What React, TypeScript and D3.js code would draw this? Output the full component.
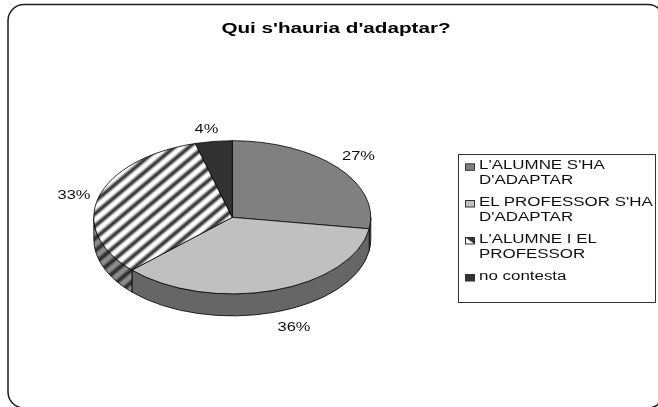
import React from "react";
import * as d3 from "d3";

const W = 658, H = 407;
const title = "Qui s'hauria d'adaptar?";
const categories = ["L'ALUMNE S'HA|D'ADAPTAR", "EL PROFESSOR S'HA|D'ADAPTAR", "L'ALUMNE I EL|PROFESSOR", "no contesta"];
const values = [27.4, 35.5, 32.8, 4.3];
const percentLabels = ["27%", "36%", "33%", "4%"];
const labelPositions = [[358.5, 160.3], [294, 330.5], [74, 199], [206.5, 133.3]];
const topFills = ["#808080", "#c0c0c0", "url(#stripes)", "#333333"];
const sideFills = ["#5f5f5f", "#666666", "url(#stripesDark)", "#262626"];
const legendFills = ["#808080", "#c0c0c0", "url(#swatchStripe)", "#333333"];
const legendBaselines = [169.3, 206, 243, 280];

const cx = 232.3, cy = 217.3, rx = 138.5, ry = 76.6, depth = 22;
const font = "'Liberation Sans', Arial, sans-serif";

export default function App() {
  const pie = d3.pie<number>().sort(null).startAngle(0).endAngle(2 * Math.PI);
  const arcs = pie(values);
  const px = (a: number) => cx + rx * Math.sin(a);
  const py = (a: number) => cy - ry * Math.cos(a);

  const sector = (a0: number, a1: number) =>
    `M${cx},${cy}L${px(a0)},${py(a0)}A${rx},${ry} 0 ${a1 - a0 > Math.PI ? 1 : 0} 1 ${px(a1)},${py(a1)}Z`;
  const side = (a0: number, a1: number) => {
    const s = Math.max(a0, Math.PI / 2), e = Math.min(a1, 1.5 * Math.PI);
    if (e <= s) return null;
    return `M${px(s)},${py(s)}A${rx},${ry} 0 0 1 ${px(e)},${py(e)}L${px(e)},${py(e) + depth}A${rx},${ry} 0 0 0 ${px(s)},${py(s) + depth}Z`;
  };

  return (
    <svg width={W} height={H} style={{ position: "absolute", left: 0, top: 0, display: "block" }}>
      <defs>
        <filter id="soft" x="0" y="0" width="100%" height="100%">
          <feGaussianBlur stdDeviation="0.4" />
        </filter>
        <linearGradient id="stripeGrad" x1="0" x2="1" y1="0" y2="0">
          <stop offset="0" stopColor="#ffffff" />
          <stop offset="0.3" stopColor="#ffffff" />
          <stop offset="0.6" stopColor="#333333" />
          <stop offset="0.72" stopColor="#333333" />
          <stop offset="1" stopColor="#ffffff" />
        </linearGradient>
        <linearGradient id="stripeGradDark" x1="0" x2="1" y1="0" y2="0">
          <stop offset="0" stopColor="#8c8c8c" />
          <stop offset="0.3" stopColor="#8c8c8c" />
          <stop offset="0.6" stopColor="#2a2a2a" />
          <stop offset="0.72" stopColor="#2a2a2a" />
          <stop offset="1" stopColor="#8c8c8c" />
        </linearGradient>
        <pattern id="stripes" width="9.5" height="9.5" patternUnits="userSpaceOnUse" patternTransform="rotate(50)">
          <rect width="9.5" height="9.5" fill="url(#stripeGrad)" />
        </pattern>
        <pattern id="stripesDark" width="9.5" height="9.5" patternUnits="userSpaceOnUse" patternTransform="rotate(50)">
          <rect width="9.5" height="9.5" fill="url(#stripeGradDark)" />
        </pattern>
        <linearGradient id="swatchStripe" x1="0" y1="1" x2="1" y2="0">
          <stop offset="0.45" stopColor="#ffffff" />
          <stop offset="0.55" stopColor="#333333" />
        </linearGradient>
      </defs>
      <g filter="url(#soft)">
        <rect x={0} y={0} width={W} height={H} fill="#fff" />
        <rect x={8} y={4.5} width={656} height={403.5} rx={16} ry={16} fill="#fff" stroke="#1a1a1a" strokeWidth={1.5} />
        <text transform="translate(336,33) scale(1.335,1)" textAnchor="middle" fontFamily={font} fontSize={15.5} fontWeight="bold" fill="#000">{title}</text>

        {arcs.map((a, i) => {
          const d = side(a.startAngle, a.endAngle);
          return d ? <path key={i} d={d} fill={sideFills[i]} stroke="#000" strokeWidth={0.8} /> : null;
        })}
        {arcs.map((a, i) => (
          <path key={i} d={sector(a.startAngle, a.endAngle)} fill={topFills[i]} stroke="#000" strokeWidth={0.8} />
        ))}
        {percentLabels.map((l, i) => (
          <text key={l} transform={`translate(${labelPositions[i][0]},${labelPositions[i][1]}) scale(1.22,1)`} textAnchor="middle" fontFamily={font} fontSize={13.5} fill="#111">{l}</text>
        ))}

        <rect x={458.5} y={154.5} width={197} height={148} fill="#fff" stroke="#333" strokeWidth={1} />
        {categories.map((c, i) => (
          <g key={c}>
            <rect x={465.5} y={legendBaselines[i] - 5.5} width={9} height={6.5} fill={legendFills[i]} stroke="#333" strokeWidth={1} />
            {c.split("|").map((line, j) => (
              <text key={j} transform={`translate(479,${legendBaselines[i] + j * 15}) scale(1.255,1)`} fontFamily={font} fontSize={13.5} fill="#111">{line}</text>
            ))}
          </g>
        ))}
      </g>
    </svg>
  );
}
